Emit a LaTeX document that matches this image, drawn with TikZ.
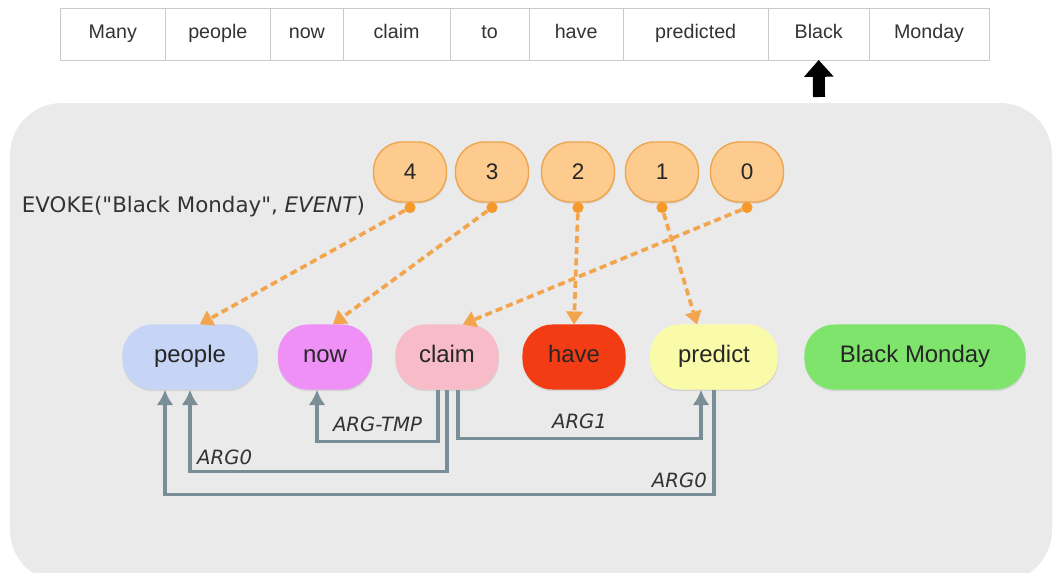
\documentclass[tikz,border=0pt]{standalone}
\usepackage{fontspec}
\setmainfont{Liberation Sans}
\newfontfamily\verd{DejaVu Sans}
\usepackage{tikz}
\usetikzlibrary{arrows.meta,positioning,calc,backgrounds,shadows}
\definecolor{panel}{HTML}{EAEAEA}
\definecolor{cellline}{HTML}{C9C9C9}
\definecolor{slotfill}{HTML}{FDCB8D}
\definecolor{slotline}{HTML}{EFA54F}
\definecolor{nubfill}{HTML}{F59A2A}
\definecolor{evoke}{HTML}{F2A54C}
\definecolor{relline}{HTML}{7A8E98}
\definecolor{cpeople}{HTML}{C6D5F6}
\definecolor{cnow}{HTML}{EE90F6}
\definecolor{cclaim}{HTML}{F8BCC9}
\definecolor{chave}{HTML}{F43C14}
\definecolor{cpredict}{HTML}{FAFBA8}
\definecolor{cbm}{HTML}{7FE46C}
\tikzset{%
cell/.style={draw=cellline, fill=white, minimum height=1.3cm, inner sep=0pt, outer sep=0pt, text height=10pt, text depth=3pt, text=black!80, font=\fontsize{14}{16}\selectfont},
slot/.style={draw=slotline, line width=1pt, fill=slotfill, rounded corners=0.72cm, minimum width=1.825cm, minimum height=1.5cm, text=black!85, font=\fontsize{16}{18}\selectfont, drop shadow={opacity=0.2, shadow xshift=0.3pt, shadow yshift=-1.2pt}},
nub/.style={circle, fill=nubfill, inner sep=0pt, minimum size=0.28cm},
argnode/.style={rounded corners=0.75cm, minimum height=1.625cm, text height=12pt, text depth=4pt, text=black!85, font=\fontsize{17}{20}\selectfont, drop shadow={opacity=0.2, shadow xshift=0.3pt, shadow yshift=-1.2pt}},
ev/.style={draw=evoke, line width=2.6pt, dash pattern=on 5pt off 3pt, -{Triangle[width=12pt,length=9pt,line width=0.01pt,fill=evoke]}},
rel/.style={draw=relline, line width=2.2pt, -{Latex[width=0.42cm,length=0.38cm]}},
lbl/.style={text=black!80, inner sep=2pt, font=\verd\fontsize{14}{16}\selectfont\itshape}
}
\begin{document}
\begin{tikzpicture}[x=0.025cm, y=-0.025cm,
		callnote/.style={text=black!80, font=\verd\fontsize{15.2}{18}\selectfont},
		blk/.style={draw=black, line width=0.3cm, -{Triangle[width=0.72cm,length=0.42cm]}}]
		\useasboundingbox (0,0) rectangle (1056,572);
		% sentence
		\node[cell, minimum width=2.61cm, anchor=west] (wmany) at (60.6,34) {Many};
		\node[cell, minimum width=2.64cm] (wpeople) [right=0pt of wmany] {people};
		\node[cell, minimum width=1.81cm] (wnow) [right=0pt of wpeople] {now};
		\node[cell, minimum width=2.675cm] (wclaim) [right=0pt of wnow] {claim};
		\node[cell, minimum width=1.975cm] (wto) [right=0pt of wclaim] {to};
		\node[cell, minimum width=2.35cm] (whave) [right=0pt of wto] {have};
		\node[cell, minimum width=3.625cm] (wpredicted) [right=0pt of whave] {predicted};
		\node[cell, minimum width=2.525cm] (wblack) [right=0pt of wpredicted] {Black};
		\node[cell, minimum width=2.99cm] (wmonday) [right=0pt of wblack] {Monday};
		\coordinate (ptr) at (819,97);
		\draw[blk] (ptr) -- (wblack.south);
		
		% stack
		\node[slot] (s4) at (410,172) {4};
		\node[slot] (s3) at (492,172) {3};
		\node[slot] (s2) at (578,172) {2};
		\node[slot] (s1) at (662,172) {1};
		\node[slot] (s0) at (747,172) {0};
		\node[nub] (t4) at ([yshift=-0.12cm]s4.south) {};
		\node[nub] (t3) at ([yshift=-0.12cm]s3.south) {};
		\node[nub] (t2) at ([yshift=-0.12cm]s2.south) {};
		\node[nub] (t1) at ([yshift=-0.12cm]s1.south) {};
		\node[nub] (t0) at ([yshift=-0.12cm]s0.south) {};
		\node[callnote, anchor=west] (evk) at (17,207) {EVOKE("Black Monday", \textit{EVENT})};
		
		% graph
		\node[argnode, fill=cpeople, minimum width=3.375cm] (people) at (190,357) {people};
		\node[argnode, fill=cnow, minimum width=2.35cm] (now) at (325,357) {now};
		\node[argnode, fill=cclaim, minimum width=2.575cm] (claim) at (447,357) {claim};
		\node[argnode, fill=chave, minimum width=2.575cm] (have) at (574,357) {have};
		\node[argnode, fill=cpredict, minimum width=3.2cm] (predict) at (714,357) {predict};
		\node[argnode, fill=cbm, minimum width=5.525cm] (bm) at (915,357) {Black Monday};
		
		\path[ev] (t4) edge ($(people.north)+(10,0)$);
		\path[ev] (t3) edge ($(now.north)+(8,0)$);
		\path[ev] (t0) edge ($(claim.north)+(16,0)$);
		\path[ev] (t2) edge ($(have.north)+(0,0)$);
		\path[ev] (t1) edge ($(predict.north)+(-17,0)$);
		
		\draw[rel] ([xshift=-0.225cm]claim.south) -- ++(0,52) -| node[lbl, pos=0.25, above=0.15cm] {ARG-TMP} ([xshift=-0.2cm]now.south);
		\draw[rel] (claim.south) -- ++(0,82) -| node[lbl, pos=0.5, above right=0.1cm] {ARG0} (people.south);
		\draw[rel] ([xshift=0.275cm]claim.south) -- ++(0,49) -| node[lbl, pos=0.25, above=0.15cm] {ARG1} ([xshift=-0.325cm]predict.south);
		\draw[rel] (predict.south) -- ++(0,105) node[lbl, above left=0.1cm] {ARG0} -| ([xshift=-0.625cm]people.south);
		
		\begin{scope}[on background layer]
		\fill[panel, rounded corners=1.3cm] (10,103) rectangle (1052,582);
		\end{scope}
	\end{tikzpicture}
\end{document}
